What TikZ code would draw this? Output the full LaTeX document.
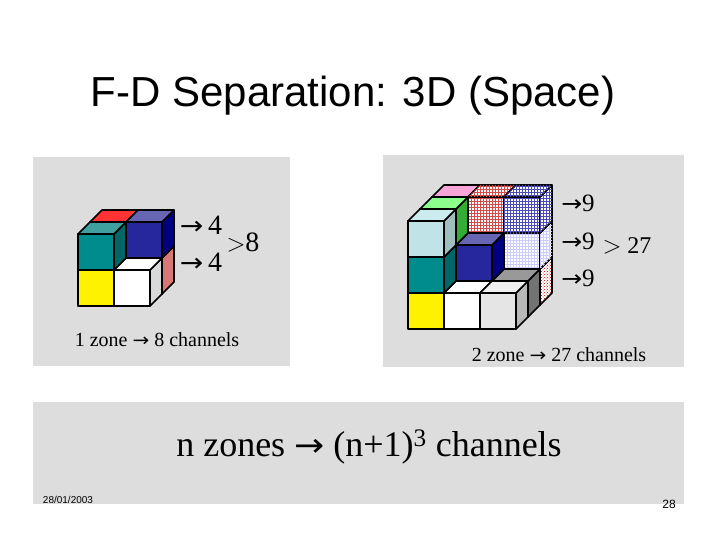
\documentclass[tikz,border=0pt]{standalone}
\usepackage{fontspec}
\setmainfont{Liberation Serif}
\newfontfamily\arial{Liberation Sans}
\newfontfamily\djv{DejaVu Sans}
\newcommand\arr{{\djv\scalebox{1}[0.9]{→}}}
\usetikzlibrary{patterns}
\definecolor{panel}{HTML}{DDDDDD}
\definecolor{lbF}{HTML}{BFE3E6}
\definecolor{lbR}{HTML}{9FBFBF}
\definecolor{lbT}{HTML}{CCEBEE}
\tikzset{
  face/.style={draw=black,line width=1.6pt,line join=round},
  rgrid/.style={fill=white,postaction={pattern=grid,pattern color=red!75!black!70}},
  bgrid/.style={fill=white,postaction={pattern=grid,pattern color=blue!60!black!70}},
  wgrid/.style={fill=white,postaction={pattern=grid,pattern color=blue!20}},
  rdots/.style={fill=white,postaction={pattern=crosshatch dots,pattern color=red!80!black}},
  lbl/.style={inner sep=0pt,anchor=center},
}
% #1 ox, #2 oy, #3 i, #4 j, #5 k, #6 front, #7 right, #8 top
\newcommand\cb[8]{%
  \begin{scope}[shift={(#1+36*#3+12*#5,#2-36*#4-12*#5)}]
    \path[face,#6] (0,0)--(36,0)--(36,-36)--(0,-36)--cycle;
    \path[face,#7] (36,0)--(48,-12)--(48,-48)--(36,-36)--cycle;
    \path[face,#8] (0,-36)--(36,-36)--(48,-48)--(12,-48)--cycle;
  \end{scope}}
\begin{document}
\begin{tikzpicture}[x=1pt,y=-1pt]
\fill[white] (0,0) rectangle (720,540);
\useasboundingbox (0,0) rectangle (720,540);
\fill[panel] (33,157) rectangle (290,366);
\fill[panel] (383,155) rectangle (684,367);
\fill[panel] (33,402) rectangle (684,504);
\node[lbl] (title) at (353,96) {\arial\fontsize{42}{46}\selectfont F-D Separation: 3D (Space)};
% left cube
\cb{78}{306}{1}{0}{1}{fill=gray}{fill=red!45!white!85!black}{fill=gray}
\cb{78}{306}{0}{1}{1}{fill=gray}{fill=gray}{fill=red!80!white}
\cb{78}{306}{1}{1}{1}{fill=blue!55!black!85!white}{fill=blue!50!black}{fill=blue!50!black!60!white}
\cb{78}{306}{0}{0}{0}{fill=yellow}{fill=gray}{fill=gray}
\cb{78}{306}{1}{0}{0}{fill=white}{fill=black!15}{fill=white}
\cb{78}{306}{0}{1}{0}{fill=teal!90!cyan}{fill=teal!80!black}{fill=teal!75!white}
% right cube
\cb{408}{329}{2}{0}{2}{fill=gray}{rdots}{fill=gray}
\cb{408}{329}{2}{1}{2}{wgrid}{wgrid}{wgrid}
\cb{408}{329}{0}{2}{2}{fill=gray}{fill=gray}{fill=magenta!35}
\cb{408}{329}{1}{2}{2}{rgrid}{rgrid}{rgrid}
\cb{408}{329}{2}{2}{2}{bgrid}{bgrid}{bgrid}
\cb{408}{329}{2}{0}{1}{fill=gray}{fill=black!55}{fill=black!40}
\cb{408}{329}{1}{1}{1}{fill=blue!55!black!85!white}{fill=blue!50!black}{fill=blue!50!black!60!white}
\cb{408}{329}{0}{2}{1}{fill=gray}{fill=green!60!black!80!white}{fill=green!45}
\cb{408}{329}{0}{0}{0}{fill=yellow}{fill=gray}{fill=gray}
\cb{408}{329}{1}{0}{0}{fill=white}{fill=gray}{fill=white}
\cb{408}{329}{2}{0}{0}{fill=black!10}{fill=black!28}{fill=black!6}
\cb{408}{329}{0}{1}{0}{fill=teal!90!cyan}{fill=teal!80!black}{fill=gray}
\cb{408}{329}{0}{2}{0}{fill=lbF}{fill=lbR}{fill=lbT}
% left labels
\node[lbl] (la) at (201,225) {\fontsize{28}{30}\selectfont \arr\,4};
\node[lbl] (lb) at (201,262) {\fontsize{28}{30}\selectfont \arr\,4};
\node[lbl] (lc) at (243,243) {\fontsize{28}{30}\selectfont $>$8};
\node[lbl] (ld) at (157,340) {\fontsize{20}{22}\selectfont 1 zone \arr\ 8 channels};
% right labels
\node[lbl] (ra) at (578,203) {\fontsize{25}{27}\selectfont \arr9};
\node[lbl] (rb) at (578,241) {\fontsize{25}{27}\selectfont \arr9};
\node[lbl] (rc) at (578,278) {\fontsize{25}{27}\selectfont \arr9};
\node[lbl] (rd) at (627,246) {\fontsize{24}{26}\selectfont $>$ 27};
\node[lbl] (re) at (559,355) {\fontsize{20}{22}\selectfont 2 zone \arr\ 27 channels};
% bottom
\node[lbl] (bt) at (369,447) {\fontsize{36}{40}\selectfont n zones \arr\ (n+1)\textsuperscript{3} channels};
\node[lbl] (dt) at (68,500) {\arial\fontsize{10}{11}\selectfont 28/01/2003};
\node[lbl] (pg) at (669,504) {\arial\fontsize{12}{14}\selectfont 28};
\end{tikzpicture}
\end{document}
